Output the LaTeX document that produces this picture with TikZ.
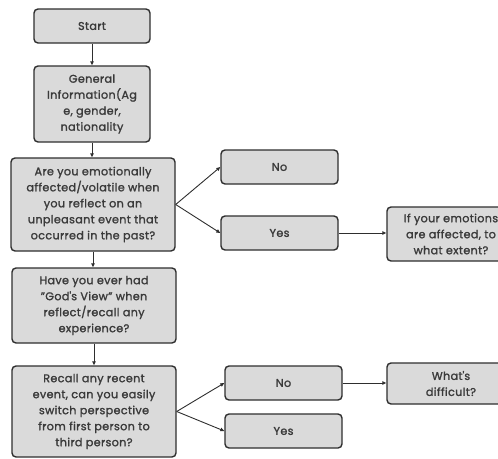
\documentclass[tikz,border=0pt]{standalone}
\usepackage{fontspec}
\setmainfont[FakeBold=1.5,LetterSpace=3]{Poppins}
\usetikzlibrary{arrows.meta}
\definecolor{boxfill}{HTML}{DADADA}
\definecolor{boxline}{HTML}{2E2E2E}
\definecolor{txt}{HTML}{3A3A3A}
\begin{document}
\begin{tikzpicture}[x=1pt,y=-1pt,
  box/.style={draw=boxline, fill=boxfill, line width=1.4pt, rounded corners=4pt,
    align=center, text=txt, font=\fontsize{11.2}{16}\selectfont, inner sep=0pt},
  conn/.style={draw=boxline, line width=0.9pt, -{Triangle[length=4pt,width=3.5pt]}}]
\useasboundingbox (0,0) rectangle (498,458);
\clip (0,0) rectangle (498,458);
\node[box, minimum width=116pt, minimum height=34pt] (start) at (92,26) {Start};
\node[box, minimum width=116pt, minimum height=76pt] (gen) at (92,104) {General\\Information(Ag\\e, gender,\\nationality};
\node[box, minimum width=164pt, minimum height=93pt] (q1) at (93,204.5) {Are you emotionally\\affected/volatile when\\you reflect on an\\unpleasant event that\\occurred in the past?};
\node[box, minimum width=164pt, minimum height=75pt] (q2) at (94,305.5) {Have you ever had\\"God\textquotesingle s View" when\\reflect/recall any\\experience?};
\node[box, minimum width=164pt, minimum height=91pt] (q3) at (94,411.5) {Recall any recent\\event, can you easily\\switch perspective\\from first person to\\third person?};
\node[box, minimum width=117pt, minimum height=34pt] (no1) at (279.5,167) {No};
\node[box, minimum width=117pt, minimum height=34pt] (yes1) at (279.5,233) {Yes};
\node[box, minimum width=128pt, minimum height=54pt] (ext) at (451,234) {If your emotions\\are affected, to\\what extent?};
\node[box, minimum width=117pt, minimum height=34pt] (no2) at (283.5,383) {No};
\node[box, minimum width=117pt, minimum height=34pt] (yes2) at (283.5,431) {Yes};
\node[box, minimum width=128pt, minimum height=41pt] (diff) at (451,383.5) {What\textquotesingle s\\difficult?};
\draw[conn] (start.south) -- (gen.north);
\draw[conn] (gen.south) -- (gen.south |- q1.north);
\draw[conn] (q1.south) -- (q1.south |- q2.north);
\draw[conn] (q2.south) -- (q2.south |- q3.north);
\draw[conn] (q1.east) -- (no1.west);
\draw[conn] (q1.east) -- (yes1.west);
\draw[conn] (yes1.east) -- (yes1.east -| ext.west);
\draw[conn] (q3.east) -- (no2.west);
\draw[conn] (q3.east) -- (yes2.west);
\draw[conn] (no2.east) -- (no2.east -| diff.west);
\end{tikzpicture}
\end{document}
